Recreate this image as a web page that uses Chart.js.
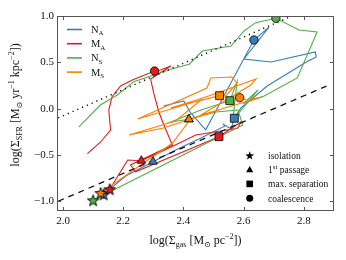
<!DOCTYPE html>
<html>
<head>
<meta charset="utf-8">
<script src="https://cdn.jsdelivr.net/npm/chart.js@4.4.0/dist/chart.umd.min.js"></script>
<style>
html, body { margin: 0; padding: 0; background: #fff; }
#wrap { width: 346px; height: 260px; }
</style>
</head>
<body>
<div id="wrap"><canvas id="ks-chart" width="346" height="260"></canvas></div>
<script>
// axis ticks
const xTicks = [2.0, 2.2, 2.4, 2.6, 2.8];
const yTicks = [-1.0, -0.5, 0.0, 0.5, 1.0];

// Kennicutt-Schmidt style relations (dashed + dotted, +0.9 dex)
const ksX = [1.984, 2.88];
const ksY = [-1.0, 0.25];
const ksHighX = [1.984, 2.76];
const ksHighY = [-0.10, 1.0];

// N_A track
const naX = [2.135, 2.208, 2.299, 2.374, 2.458, 2.538, 2.531, 2.558, 2.569, 2.591, 2.678, 2.808, 2.841, 2.838, 2.691, 2.601, 2.684, 2.634, 2.474, 2.424, 2.401, 2.334];
const naY = [-0.925, -0.727, -0.573, -0.446, -0.317, -0.187, -0.166, -0.22, -0.104, 0.007, 0.244, 0.503, 0.557, 0.611, 0.503, 0.536, 0.880, 0.741, -0.229, -0.047, 0.083, 0.029];

// M_A track
const maX = [2.155, 2.215, 2.26, 2.302, 2.385, 2.441, 2.58, 2.591, 2.518, 2.241, 2.224, 2.363, 2.335, 2.319, 2.301, 2.291, 2.358, 2.324, 2.304, 2.23, 2.191, 2.163, 2.152, 2.158, 2.125, 2.081];
const maY = [-0.870, -0.554, -0.562, -0.50, -0.374, -0.285, -0.212, -0.144, -0.303, -0.681, -0.608, -0.392, -0.176, -0.044, 0.169, 0.320, 0.460, 0.417, 0.406, 0.309, 0.244, 0.129, -0.015, -0.231, -0.360, -0.486];

// N_S track
const nsX = [2.100, 2.597, 2.581, 2.508, 2.418, 2.358, 2.458, 2.554, 2.578, 2.564, 2.648, 2.601, 2.668, 2.778, 2.844, 2.784, 2.707, 2.640, 2.601, 2.558, 2.524, 2.463, 2.419, 2.358, 2.302, 2.235, 2.18, 2.124, 2.053];
const nsY = [-0.989, -0.176, -0.015, -0.036, -0.115, -0.144, -0.015, 0.086, 0.288, -0.123, 0.201, 0.061, 0.137, 0.331, 0.827, 0.849, 0.975, 0.928, 0.838, 0.676, 0.658, 0.622, 0.479, 0.425, 0.363, 0.291, 0.147, 0.039, -0.198];

// M_S track
const msX = [2.125, 2.258, 2.363, 2.413, 2.418, 2.518, 2.330, 2.219, 2.374, 2.458, 2.248, 2.478, 2.491, 2.561, 2.578, 2.541, 2.52, 2.358, 2.474, 2.641, 2.624, 2.458, 2.661, 2.608, 2.587];
const msY = [-0.910, -0.608, -0.374, -0.158, -0.115, -0.015, -0.212, -0.284, -0.133, 0.093, -0.112, 0.223, 0.331, 0.342, 0.277, 0.137, 0.140, 0.007, 0.126, 0.320, 0.255, -0.069, 0.126, 0.093, 0.118];

// special moments, order N_A, M_A, N_S, M_S
const isoX = [2.135, 2.155, 2.100, 2.125];
const isoY = [-0.925, -0.870, -0.989, -0.910];
const passX = [2.299, 2.26, 2.418, 2.418];
const passY = [-0.573, -0.562, -0.115, -0.115];
const sepX = [2.569, 2.518, 2.554, 2.52];
const sepY = [-0.104, -0.303, 0.086, 0.140];
const coalX = [2.634, 2.304, 2.707, 2.587];
const coalY = [0.741, 0.406, 0.975, 0.118];

const seriesNames = [['N', 'A'], ['M', 'A'], ['N', 'S'], ['M', 'S']];
const seriesColors = ['#377eb8', '#e41a1c', '#4daf4a', '#ff7f00'];
const eventNames = ['isolation', '1st passage', 'max. separation', 'coalescence'];

const SERIF = '"Liberation Serif", "DejaVu Serif", serif';

function pts(xs, ys) {
    return xs.map((x, i) => ({ x: x, y: ys[i] }));
}

function track(label, xs, ys, color, order) {
    return {
        label: label,
        data: pts(xs, ys),
        showLine: true,
        borderColor: color,
        backgroundColor: color,
        borderWidth: 1.1,
        pointRadius: 0,
        tension: 0,
        order: order
    };
}

function starPath(g, cx, cy, R, r) {
    g.beginPath();
    for (let i = 0; i < 10; i++) {
        const a = -Math.PI / 2 + i * Math.PI / 5;
        const rr = i % 2 ? r : R;
        g.lineTo(cx + rr * Math.cos(a), cy + rr * Math.sin(a));
    }
    g.closePath();
}

function starImage(fill) {
    const s = 14;
    const c = document.createElement('canvas');
    c.width = s; c.height = s;
    const g = c.getContext('2d');
    starPath(g, s / 2, s / 2 + 0.6, 6, 2.5);
    g.fillStyle = fill;
    g.fill();
    g.lineWidth = 0.9;
    g.strokeStyle = '#000';
    g.stroke();
    return c;
}

// text with sub/superscripts: parts = [[text, mode]] mode 0 normal, 1 sub, 2 sup
function drawRich(ctx, parts, x, y, size, align) {
    const fontOf = m => (m ? Math.round(size * 0.7) : size) + 'px ' + SERIF;
    const widths = parts.map(p => { ctx.font = fontOf(p[1]); return ctx.measureText(p[0]).width; });
    const total = widths.reduce((a, b) => a + b, 0);
    let cx = align === 'center' ? x - total / 2 : x;
    ctx.textAlign = 'left';
    ctx.textBaseline = 'alphabetic';
    parts.forEach((p, i) => {
        ctx.font = fontOf(p[1]);
        const dy = p[1] === 1 ? size * 0.22 : (p[1] === 2 ? -size * 0.4 : 0);
        ctx.fillText(p[0], cx, y + dy);
        cx += widths[i];
    });
}

// frame, inward ticks, titles and both legends
const decorations = {
    id: 'decorations',
    afterDatasetsDraw(chart) {
        const ctx = chart.ctx;
        const a = chart.chartArea;
        const xs = chart.scales.x, ys = chart.scales.y;
        ctx.save();
        ctx.strokeStyle = '#555';
        ctx.lineWidth = 1;
        ctx.strokeRect(a.left + 0.5, a.top + 0.5, a.right - a.left - 1, a.bottom - a.top - 1);
        ctx.beginPath();
        xTicks.forEach(v => {
            const px = Math.round(xs.getPixelForValue(v)) + 0.5;
            ctx.moveTo(px, a.bottom); ctx.lineTo(px, a.bottom - 4);
            ctx.moveTo(px, a.top); ctx.lineTo(px, a.top + 4);
        });
        yTicks.forEach(v => {
            const py = Math.round(ys.getPixelForValue(v)) + 0.5;
            ctx.moveTo(a.left, py); ctx.lineTo(a.left + 4, py);
            ctx.moveTo(a.right, py); ctx.lineTo(a.right - 4, py);
        });
        ctx.stroke();

        ctx.fillStyle = '#111';
        // x title
        drawRich(ctx, [['log(\u03a3', 0], ['gas', 1], [' [M', 0], ['\u2299', 1], [' pc', 0], ['\u22122', 2], ['])', 0]],
            (a.left + a.right) / 2, 244, 12, 'center');
        // y title
        ctx.save();
        ctx.translate(19, 105);
        ctx.rotate(-Math.PI / 2);
        drawRich(ctx, [['log(\u03a3', 0], ['SFR', 1], [' [M', 0], ['\u2299', 1], [' yr', 0], ['\u22121', 2], [' kpc', 0], ['\u22122', 2], ['])', 0]],
            0, 0, 12, 'center');
        ctx.restore();

        // series legend
        seriesNames.forEach((n, i) => {
            const yy = a.top + 13.5 + i * 14.2;
            ctx.strokeStyle = seriesColors[i];
            ctx.lineWidth = 1.6;
            ctx.beginPath();
            ctx.moveTo(a.left + 10, yy); ctx.lineTo(a.left + 25, yy);
            ctx.stroke();
            ctx.fillStyle = '#111';
            drawRich(ctx, [[n[0], 0], [n[1], 1]], a.left + 34, yy + 3.5, 10.5, 'left');
        });

        // event legend
        eventNames.forEach((t, i) => {
            const mx = 249.7, my = 155.3 + i * 14.3;
            ctx.fillStyle = '#000';
            if (i === 0) {
                starPath(ctx, mx, my + 0.5, 4.6, 1.9); ctx.fill();
            } else if (i === 1) {
                ctx.beginPath(); ctx.moveTo(mx, my - 3.6); ctx.lineTo(mx + 3.6, my + 2.6); ctx.lineTo(mx - 3.6, my + 2.6); ctx.closePath(); ctx.fill();
            } else if (i === 2) {
                ctx.fillRect(mx - 3.3, my - 3.3, 6.6, 6.6);
            } else {
                ctx.beginPath(); ctx.arc(mx, my, 3.5, 0, Math.PI * 2); ctx.fill();
            }
            ctx.fillStyle = '#111';
            if (i === 1) {
                drawRich(ctx, [['1', 0], ['st', 2], [' passage', 0]], 268, my + 3.5, 9.5, 'left');
            } else {
                drawRich(ctx, [[t, 0]], 268, my + 3.5, 9.5, 'left');
            }
        });
        ctx.restore();
    }
};

const tickFont = { family: SERIF, size: 11 };

new Chart(document.getElementById('ks-chart').getContext('2d'), {
    type: 'scatter',
    data: {
        datasets: [
            { label: 'isolation', data: pts(isoX, isoY), pointStyle: seriesColors.map(starImage), pointRadius: 6, order: 0 },
            { label: '1st passage', data: pts(passX, passY), pointStyle: 'triangle', pointRadius: 5, backgroundColor: seriesColors, borderColor: '#000', borderWidth: 0.8, order: 0 },
            { label: 'max. separation', data: pts(sepX, sepY), pointStyle: 'rect', pointRadius: 5.6, backgroundColor: seriesColors, borderColor: '#000', borderWidth: 0.8, order: 0 },
            { label: 'coalescence', data: pts(coalX, coalY), pointStyle: 'circle', pointRadius: 4.2, backgroundColor: seriesColors, borderColor: '#000', borderWidth: 0.8, order: 0 },
            { label: 'KS', data: pts(ksX, ksY), showLine: true, borderColor: '#111', borderWidth: 1.3, borderDash: [6, 5], pointRadius: 0, order: 1 },
            { label: 'KS +0.9', data: pts(ksHighX, ksHighY), showLine: true, borderColor: '#111', borderWidth: 1.5, borderDash: [1.2, 4], pointRadius: 0, order: 1 },
            track('M_S', msX, msY, seriesColors[3], 2),
            track('N_S', nsX, nsY, seriesColors[2], 3),
            track('M_A', maX, maY, seriesColors[1], 4),
            track('N_A', naX, naY, seriesColors[0], 5)
        ]
    },
    options: {
        responsive: false,
        animation: false,
        devicePixelRatio: 1,
        layout: { padding: { left: 0, right: 12, top: 16, bottom: 0 } },
        plugins: { legend: { display: false }, tooltip: { enabled: false } },
        scales: {
            x: {
                type: 'linear',
                min: 1.98,
                max: 2.9,
                afterBuildTicks: axis => { axis.ticks = xTicks.map(v => ({ value: v })); },
                afterFit: scale => { scale.height = 49; },
                ticks: { callback: v => v.toFixed(1), font: tickFont, color: '#111', padding: 4, maxRotation: 0, autoSkip: false },
                grid: { display: false, drawTicks: false },
                border: { display: false }
            },
            y: {
                type: 'linear',
                min: -1.105,
                max: 1.0,
                afterBuildTicks: axis => { axis.ticks = yTicks.map(v => ({ value: v })); },
                afterFit: scale => { scale.width = 57; },
                ticks: { callback: v => (v < 0 ? '\u2212' + Math.abs(v).toFixed(1) : v.toFixed(1)), font: tickFont, color: '#111', padding: 3, autoSkip: false },
                grid: { display: false, drawTicks: false },
                border: { display: false }
            }
        }
    },
    plugins: [decorations]
});
</script>
</body>
</html>
